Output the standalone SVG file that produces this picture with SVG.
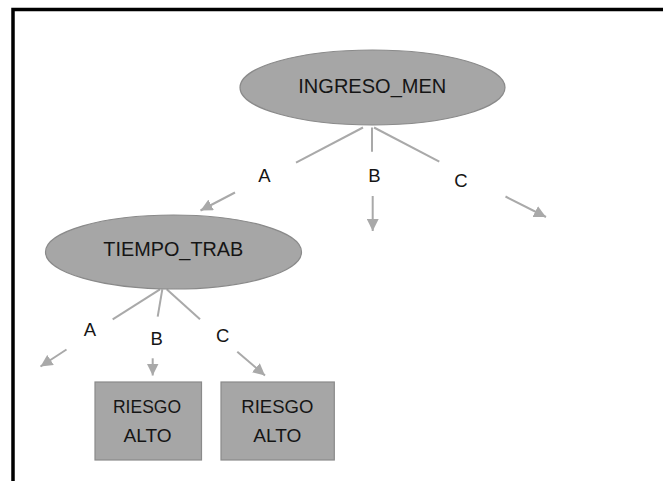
<svg xmlns="http://www.w3.org/2000/svg" width="663" height="481" viewBox="0 0 663 481">
<style>
.node{fill:#a6a6a6;stroke:#8a8a8a;stroke-width:1.2}
.t{font-family:"Liberation Sans",Arial,sans-serif;fill:#151515;text-anchor:middle}
.nt{font-size:21px}
.bt{font-size:19px}
.lbl{font-size:18.5px}
.c{stroke:#a9a9a9;stroke-width:2;fill:none}
</style>
<defs>
<marker id="ah" markerUnits="userSpaceOnUse" markerWidth="13" markerHeight="12" refX="12" refY="6" orient="auto">
<path d="M0,0 L12,6 L0,12 z" fill="#a9a9a9"/>
</marker>
</defs>
<rect x="0" y="0" width="663" height="481" fill="#ffffff"/>
<path d="M13,481 V9.5 H663" fill="none" stroke="#000000" stroke-width="3.5"/>
<g id="connectors">
<line class="c" x1="363" y1="127.5" x2="296" y2="162.7"/>
<line class="c" x1="372" y1="127.5" x2="372" y2="151.7"/>
<line class="c" x1="374" y1="127.5" x2="439.3" y2="161.7"/>
<line class="c" x1="235" y1="192.5" x2="200.5" y2="210.5" marker-end="url(#ah)"/>
<line class="c" x1="372.7" y1="196" x2="372.7" y2="231" marker-end="url(#ah)"/>
<line class="c" x1="505.5" y1="196.5" x2="546" y2="217" marker-end="url(#ah)"/>
<line class="c" x1="160" y1="289.3" x2="112.7" y2="319.3"/>
<line class="c" x1="162.3" y1="289.3" x2="157.7" y2="316.7"/>
<line class="c" x1="166.7" y1="289.3" x2="200" y2="319.3"/>
<line class="c" x1="66.5" y1="349.5" x2="40.5" y2="366.5" marker-end="url(#ah)"/>
<line class="c" x1="152.7" y1="358.3" x2="152.7" y2="375.5" marker-end="url(#ah)"/>
<line class="c" x1="237.3" y1="351.7" x2="265" y2="375.5" marker-end="url(#ah)"/>
<text class="t lbl" x="264.3" y="181.7">A</text>
<text class="t lbl" x="374.3" y="181.7">B</text>
<text class="t lbl" x="461" y="186.7">C</text>
<text class="t lbl" x="90" y="336">A</text>
<text class="t lbl" x="156.7" y="345">B</text>
<text class="t lbl" x="222.7" y="341.7">C</text>
</g>
<g id="ingreso_men">
<ellipse class="node" cx="372.5" cy="87.5" rx="132.5" ry="37.5"/>
<text class="t nt" x="372.3" y="92.8" textLength="148" lengthAdjust="spacingAndGlyphs">INGRESO_MEN</text>
</g>
<g id="tiempo_trab">
<ellipse class="node" cx="173.5" cy="252" rx="128" ry="37"/>
<text class="t nt" x="173.3" y="255.8" textLength="140" lengthAdjust="spacingAndGlyphs">TIEMPO_TRAB</text>
</g>
<g id="riesgo_alto_1">
<rect class="node" x="95" y="382" width="106.5" height="78"/>
<text class="t bt" x="147" y="412.5" textLength="68" lengthAdjust="spacingAndGlyphs">RIESGO</text>
<text class="t bt" x="147.5" y="441.9" textLength="48" lengthAdjust="spacingAndGlyphs">ALTO</text>
</g>
<g id="riesgo_alto_2">
<rect class="node" x="221" y="382" width="113.3" height="78"/>
<text class="t bt" x="277.3" y="412.5" textLength="72" lengthAdjust="spacingAndGlyphs">RIESGO</text>
<text class="t bt" x="277.3" y="441.9" textLength="48" lengthAdjust="spacingAndGlyphs">ALTO</text>
</g>
</svg>
